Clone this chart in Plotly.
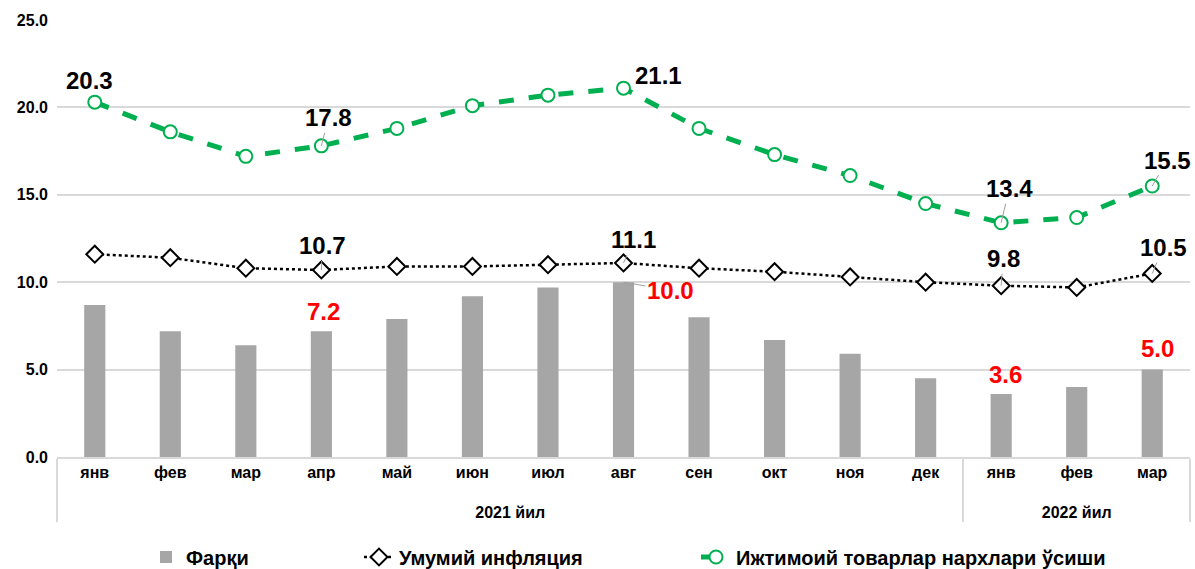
import plotly.graph_objects as go

# ---------------- DATA ----------------
months = ['янв', 'фев', 'мар', 'апр', 'май', 'июн', 'июл', 'авг',
          'сен', 'окт', 'ноя', 'дек', 'янв', 'фев', 'мар']
years = ['2021 йил'] * 12 + ['2022 йил'] * 3

farq = [8.7, 7.2, 6.4, 7.2, 7.9, 9.2, 9.7, 10.0, 8.0, 6.7, 5.9, 4.5, 3.6, 4.0, 5.0]
inflation = [11.6, 11.4, 10.8, 10.7, 10.9, 10.9, 11.0, 11.1, 10.8, 10.6, 10.3, 10.0, 9.8, 9.7, 10.5]
social = [20.3, 18.6, 17.2, 17.8, 18.8, 20.1, 20.7, 21.1, 18.8, 17.3, 16.1, 14.5, 13.4, 13.7, 15.5]

names = ['Фарқи', 'Умумий инфляция', 'Ижтимоий товарлар нархлари ўсиши']

# ---------------- STYLE ----------------
FONT = 'Liberation Sans'
GREEN = '#00B050'
GREY = '#A6A6A6'
GRID = '#D9D9D9'

# leading line break pushes the year row a bit lower, like the original
x = [['<br>' + y for y in years], months]

fig = go.Figure()

fig.add_trace(go.Bar(
    x=x, y=farq, name=names[0],
    marker=dict(color=GREY, line=dict(width=0)),
    legend='legend',
))

fig.add_trace(go.Scatter(
    x=x, y=inflation, name=names[1], mode='lines+markers',
    line=dict(color='black', width=2.5, dash='dot'),
    marker=dict(symbol='diamond', size=13, color='white',
                line=dict(color='black', width=2)),
    legend='legend2',
))

fig.add_trace(go.Scatter(
    x=x, y=social, name=names[2], mode='lines+markers',
    line=dict(color=GREEN, width=5, dash='dash'),
    marker=dict(symbol='circle', size=13, color='white',
                line=dict(color=GREEN, width=2)),
    legend='legend3',
))

# data labels: (series, index, dx, dy, leader line, colour)
series = {'farq': farq, 'inflation': inflation, 'social': social}
labels = [
    ('social', 0, -5, -22, False, 'black'),
    ('social', 3, 7, -28, True, 'black'),
    ('social', 7, 35, -13, False, 'black'),
    ('social', 12, 8, -34, True, 'black'),
    ('social', 14, 15, -26, True, 'black'),
    ('inflation', 3, 1, -24, True, 'black'),
    ('inflation', 7, 10, -23, True, 'black'),
    ('inflation', 12, 2, -27, True, 'black'),
    ('inflation', 14, 11, -26, True, 'black'),
    ('farq', 3, 2, -20, False, 'red'),
    ('farq', 7, 47, 8, True, 'red'),
    ('farq', 12, 4, -20, False, 'red'),
    ('farq', 14, 5, -21, False, 'red'),
]
for key, i, dx, dy, leader, col in labels:
    v = series[key][i]
    fig.add_annotation(
        x=i, y=v, xref='x', yref='y',
        text=f'{v:.1f}', showarrow=True,
        ax=dx, ay=dy, arrowhead=0, arrowwidth=1, standoff=0,
        arrowcolor='#A0A0A0' if leader else 'rgba(0,0,0,0)',
        font=dict(family=FONT, size=24, color=col, weight='bold'),
    )

# legends placed in container coords (no margin push)
W, H = 1195, 569
legend_common = dict(
    orientation='h', xref='container', yref='container',
    y=(H - 557) / H, yanchor='middle', xanchor='left',
    font=dict(family=FONT, size=20, color='black', weight='bold'),
    bgcolor='rgba(0,0,0,0)',
)

fig.update_layout(
    width=W, height=H,
    paper_bgcolor='white', plot_bgcolor='white',
    margin=dict(l=57, r=5, t=20, b=112),
    font=dict(family=FONT, color='black'),
    bargap=0.72,
    showlegend=True,
    legend=dict(x=146 / W, **legend_common),
    legend2=dict(x=359 / W, **legend_common),
    legend3=dict(x=696 / W, **legend_common),
)

fig.update_yaxes(
    range=[0, 25], dtick=5, tickformat='.1f',
    gridcolor=GRID, gridwidth=1.5, zeroline=False, showline=False,
    tickfont=dict(family=FONT, size=16, color='black', weight='bold'),
    ticks='', ticklabelstandoff=8,
)
fig.update_xaxes(
    type='multicategory', range=[-0.5, 14.5], autorange=False,
    showline=True, linecolor=GRID, linewidth=1.5,
    showdividers=True, dividercolor=GRID, dividerwidth=1.5,
    tickfont=dict(family=FONT, size=16, color='black', weight='bold'),
    showgrid=False,
)

fig.write_html('out.html', config={'displayModeBar': False},
               post_script="document.body.style.margin='0px';")
